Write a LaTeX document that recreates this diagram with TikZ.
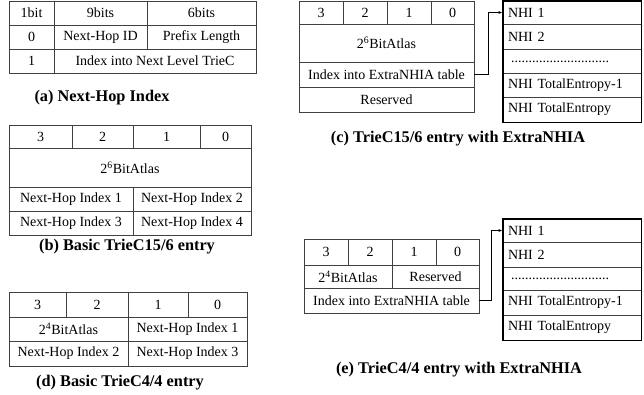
\documentclass[tikz,border=0pt]{standalone}
\usepackage{fontspec}
\setmainfont{Liberation Serif}
\usetikzlibrary{arrows.meta}
\newcommand{\cellx}[7][]{\node[cellst,#1, minimum width={(#4-#2)*1pt}, minimum height={(#5-#3)*1pt}] (#6) at ({(#2+#4)/2},{(#3+#5)/2}) {#7};}
\newcommand{\dotrow}{\raisebox{-3pt}{\hspace{3pt}............................}}
\tikzset{
 cellst/.style={draw=black!75, line width=0.8pt, inner sep=0pt, font=\fontsize{14}{16}\selectfont},
 nhist/.style={align=left, text width=128pt, inner xsep=5pt},
 capst/.style={font=\fontsize{16.3}{18}\selectfont\bfseries, inner sep=0pt},
 linkst/.style={draw=black, line width=0.8pt, -{Latex[length=4pt,width=3pt]}},
 framest/.style={draw=black, line width=1.8pt}
}
\begin{document}
\begin{tikzpicture}[x=1pt,y=-1pt]
\useasboundingbox (0,0) rectangle (644,394);
% (a)
\cellx{9}{1}{54}{25}{a11}{1bit}
\cellx{54}{1}{147}{25}{a12}{9bits}
\cellx{147}{1}{256}{25}{a13}{6bits}
\cellx{9}{25}{54}{49}{a21}{0}
\cellx{54}{25}{147}{49}{a22}{Next-Hop ID}
\cellx{147}{25}{256}{49}{a23}{Prefix Length}
\cellx{9}{49}{54}{73}{a31}{1}
\cellx{54}{49}{256}{73}{a32}{Index into Next Level TrieC}
\node[capst] (capa) at (102,98) {(a) Next-Hop Index};
% (b)
\cellx{9}{125}{72}{148}{b11}{3}
\cellx{72}{125}{133}{148}{b12}{2}
\cellx{133}{125}{200}{148}{b13}{1}
\cellx{200}{125}{251}{148}{b14}{0}
\cellx{9}{148}{251}{187}{b2}{2\textsuperscript{6}BitAtlas}
\cellx{9}{187}{133}{211}{b31}{Next-Hop Index 1}
\cellx{133}{187}{251}{211}{b32}{Next-Hop Index 2}
\cellx{9}{211}{133}{235}{b41}{Next-Hop Index 3}
\cellx{133}{211}{251}{235}{b42}{Next-Hop Index 4}
\node[capst] (capb) at (127,247) {(b) Basic TrieC15/6 entry};
% (d)
\cellx{9}{292}{66}{317}{d11}{3}
\cellx{66}{292}{128}{317}{d12}{2}
\cellx{128}{292}{188}{317}{d13}{1}
\cellx{188}{292}{247}{317}{d14}{0}
\cellx{9}{317}{128}{341}{d21}{2\textsuperscript{4}BitAtlas}
\cellx{128}{317}{247}{341}{d22}{Next-Hop Index 1}
\cellx{9}{341}{128}{366}{d31}{Next-Hop Index 2}
\cellx{128}{341}{247}{366}{d32}{Next-Hop Index 3}
\node[capst] (capd) at (120,383) {(d) Basic TrieC4/4 entry};
% (c)
\cellx{299}{1}{343}{24}{c11}{3}
\cellx{343}{1}{387}{24}{c12}{2}
\cellx{387}{1}{431}{24}{c13}{1}
\cellx{431}{1}{474}{24}{c14}{0}
\cellx{299}{24}{474}{62}{c2}{2\textsuperscript{6}BitAtlas}
\cellx{299}{62}{474}{87}{cidx}{Index into ExtraNHIA table}
\cellx{299}{87}{474}{112}{c4}{Reserved}
\cellx[nhist]{503}{1}{641}{24}{cn1}{NHI 1}
\cellx[nhist]{503}{24}{641}{49}{cn2}{NHI 2}
\cellx[nhist]{503}{49}{641}{73}{cn3}{\dotrow}
\cellx[nhist]{503}{73}{641}{97}{cn4}{NHI TotalEntropy-1}
\cellx[nhist]{503}{97}{641}{122}{cn5}{NHI TotalEntropy}
\draw[framest] (cn1.north west) rectangle (cn5.south east);
\draw[linkst] (cidx.east) -- ++(14,0) |- (cn1.west);
\node[capst] (capc) at (458,139) {(c) TrieC15/6 entry with ExtraNHIA};
% (e)
\cellx{304}{239}{348}{265}{e11}{3}
\cellx{348}{239}{392}{265}{e12}{2}
\cellx{392}{239}{436}{265}{e13}{1}
\cellx{436}{239}{479}{265}{e14}{0}
\cellx{304}{265}{392}{288}{e21}{2\textsuperscript{4}BitAtlas}
\cellx{392}{265}{479}{288}{e22}{Reserved}
\cellx{304}{288}{479}{313}{eidx}{Index into ExtraNHIA table}
\cellx[nhist]{503}{219}{641}{242}{en1}{NHI 1}
\cellx[nhist]{503}{242}{641}{267}{en2}{NHI 2}
\cellx[nhist]{503}{267}{641}{290}{en3}{\dotrow}
\cellx[nhist]{503}{290}{641}{315}{en4}{NHI TotalEntropy-1}
\cellx[nhist]{503}{315}{641}{340}{en5}{NHI TotalEntropy}
\draw[framest] (en1.north west) rectangle (en5.south east);
\draw[linkst] (eidx.east) -- ++(12,0) |- (en1.west);
\node[capst] (cape) at (459,370) {(e) TrieC4/4 entry with ExtraNHIA};
\end{tikzpicture}
\end{document}
